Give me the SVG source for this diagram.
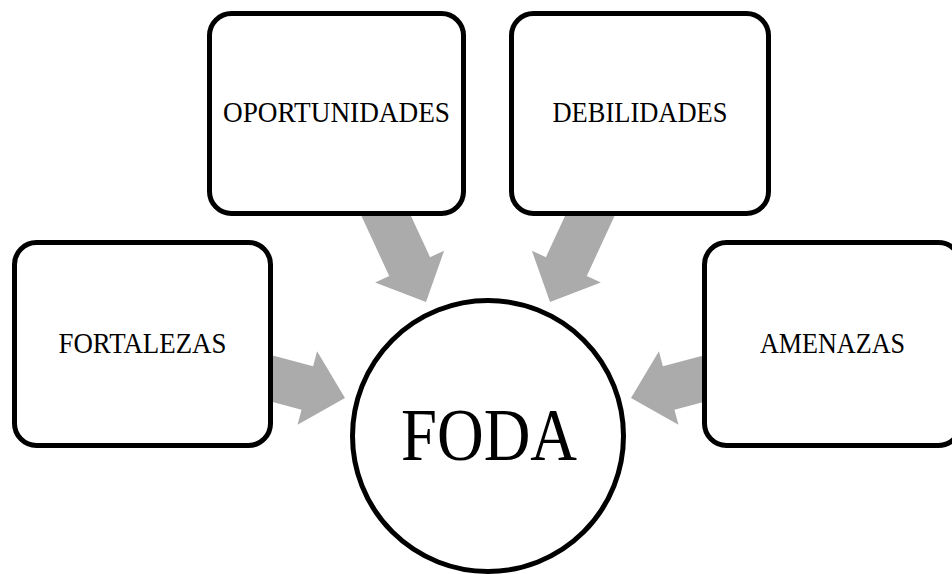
<svg xmlns="http://www.w3.org/2000/svg" width="952" height="574" viewBox="0 0 952 574">
  <defs>
    <style>
      .box { fill: #ffffff; stroke: #000000; stroke-width: 5; }
      .arrow { fill: #ABABAB; stroke: none; }
      .lbl { font-family: "Liberation Serif", "DejaVu Serif", serif; font-size: 29px; fill: #000000; text-anchor: middle; }
      .big { font-family: "Liberation Serif", "DejaVu Serif", serif; font-size: 75px; fill: #000000; text-anchor: middle; }
    </style>
    <polygon id="arr" points="0,0 -39,-38 -39,-22.5 -115,-22.5 -115,22.5 -39,22.5 -39,38"/>
  </defs>
  <rect width="952" height="574" fill="#ffffff"/>
  <g id="connectors">
    <use href="#arr" class="arrow" transform="translate(345,398) rotate(14.9)"/>
    <use href="#arr" class="arrow" transform="translate(426,302) rotate(65.2)"/>
    <use href="#arr" class="arrow" transform="translate(550,302) rotate(114.8)"/>
    <use href="#arr" class="arrow" transform="translate(631,398) rotate(165.1)"/>
  </g>
  <g id="oportunidades">
    <rect class="box" x="209.5" y="13.5" width="254" height="200" rx="22"/>
    <text class="lbl" x="336.5" y="122" textLength="227" lengthAdjust="spacingAndGlyphs">OPORTUNIDADES</text>
  </g>
  <g id="debilidades">
    <rect class="box" x="511.5" y="13.5" width="257" height="200" rx="22"/>
    <text class="lbl" x="640" y="122" textLength="175" lengthAdjust="spacingAndGlyphs">DEBILIDADES</text>
  </g>
  <g id="fortalezas">
    <rect class="box" x="14.5" y="242.5" width="256" height="203" rx="22"/>
    <text class="lbl" x="142.5" y="353" textLength="168" lengthAdjust="spacingAndGlyphs">FORTALEZAS</text>
  </g>
  <g id="amenazas">
    <rect class="box" x="704.5" y="242.5" width="256" height="203" rx="22"/>
    <text class="lbl" x="832.5" y="353" textLength="145" lengthAdjust="spacingAndGlyphs">AMENAZAS</text>
  </g>
  <g id="foda">
    <circle class="box" cx="488" cy="436" r="135.5"/>
    <text class="big" x="489" y="460" textLength="176" lengthAdjust="spacingAndGlyphs">FODA</text>
  </g>
</svg>
